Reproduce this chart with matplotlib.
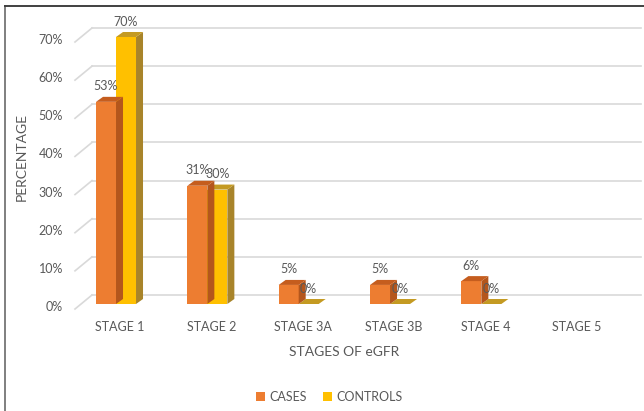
import matplotlib
matplotlib.use("Agg")
import matplotlib.pyplot as plt
from matplotlib.patches import Polygon, Rectangle
from matplotlib.lines import Line2D
from matplotlib.transforms import blended_transform_factory

categories = ["STAGE 1", "STAGE 2", "STAGE 3A", "STAGE 3B", "STAGE 4", "STAGE 5"]
cases = [53, 31, 5, 5, 6, None]
controls = [70, 30, 0, 0, 0, None]
yticks = [0, 10, 20, 30, 40, 50, 60, 70]
series_names = ["CASES", "CONTROLS"]

plt.rcParams['font.family'] = ['Lato', 'DejaVu Sans']
TXT = '#595959'
FS = 9

W, H = 644, 411
fig = plt.figure(figsize=(W / 100, H / 100), dpi=100)
ax_left, ax_right = 70.35, 618.35
ax_bot, ax_top = 304, 37
ax = fig.add_axes([ax_left / W, 1 - ax_bot / H, (ax_right - ax_left) / W, (ax_bot - ax_top) / H])
ax.set_xlim(-0.5, 5.5)
ax.set_ylim(0, 70)
ax.axis('off')

pxx = (ax_right - ax_left) / 6.0   # pixels per category
pxy = (ax_bot - ax_top) / 70.0     # pixels per percent

bw = 20 / pxx
ddx = 7 / pxx
ddy = 5 / pxy

# gridlines (back wall) and left-wall diagonals
bt = blended_transform_factory(ax.transAxes, ax.transData)
fx = (75 - ax_left) / (ax_right - ax_left)
bx = (92 - ax_left) / (ax_right - ax_left)
ex = (641 - ax_left) / (ax_right - ax_left)
front_off = 5 / pxy
back_off = 9 / pxy
for v in yticks:
    ax.add_line(Line2D([bx, ex], [v + back_off, v + back_off], transform=bt,
                       color='#d9d9d9', lw=1.2, clip_on=False, zorder=1))
    ax.add_line(Line2D([fx, bx], [v - front_off, v + back_off], transform=bt,
                       color='#d9d9d9', lw=1.2, clip_on=False, zorder=1))
    ax.text((63 - ax_left) / (ax_right - ax_left), v - 0.8, f"{v}%", transform=bt,
            ha='right', va='center', fontsize=FS, color=TXT)

styles = [
    dict(front='#ED7D31', side='#B4561C', top='#C55D1E'),
    dict(front='#FFC000', side='#A8842A', top='#C49A22'),
]


def draw_bar(x0, h, st, z):
    # front face
    ax.add_patch(Rectangle((x0, 0), bw, h, facecolor=st['front'], edgecolor='none',
                           zorder=z, clip_on=False))
    # side face
    ax.add_patch(Polygon([(x0 + bw, 0), (x0 + bw + ddx, ddy), (x0 + bw + ddx, h + ddy), (x0 + bw, h)],
                         closed=True, facecolor=st['side'], edgecolor='none', zorder=z, clip_on=False))
    # top face
    ax.add_patch(Polygon([(x0, h), (x0 + ddx, h + ddy), (x0 + bw + ddx, h + ddy), (x0 + bw, h)],
                         closed=True, facecolor=st['top'], edgecolor='none', zorder=z, clip_on=False))
    ax.text(x0 + bw / 2, h + 15.5 / pxy, f"{h}%", ha='center', va='center',
            fontsize=FS, color=TXT, zorder=10, clip_on=False)


for i in range(len(categories)):
    c = cases[i]
    k = controls[i]
    if k is not None:
        draw_bar(i, k, styles[1], 3)
    if c is not None:
        draw_bar(i - bw, c, styles[0], 4)
    ax.text(i + 4 / pxx, -23 / pxy, categories[i], ha='center', va='center',
            fontsize=FS, color=TXT, clip_on=False)

fig.text(344 / W, 1 - 352 / H, "STAGES OF eGFR", ha='center', va='center', fontsize=FS + 1, color=TXT)
fig.text(22 / W, 1 - 157 / H, "PERCENTAGE", ha='center', va='center', rotation=90,
         fontsize=FS + 1, color=TXT)

handles = [Rectangle((0, 0), 1, 1, facecolor=styles[j]['front'], edgecolor='none') for j in range(2)]
fig.legend(handles, series_names, loc='center', bbox_to_anchor=(329 / W, 1 - 397 / H),
           ncol=2, frameon=False, fontsize=FS, handlelength=0.75, handleheight=0.75,
           handletextpad=0.3, columnspacing=1.3, labelcolor=TXT)

# frame
fig.add_artist(Line2D([5 / W, 5 / W], [0, 1 - 6 / H], transform=fig.transFigure, color='#7f7f7f', lw=1.4))
fig.add_artist(Line2D([5 / W, 1], [1 - 6 / H, 1 - 6 / H], transform=fig.transFigure, color='#404040', lw=1.4))

fig.savefig("out.png", dpi=100, facecolor='white')
